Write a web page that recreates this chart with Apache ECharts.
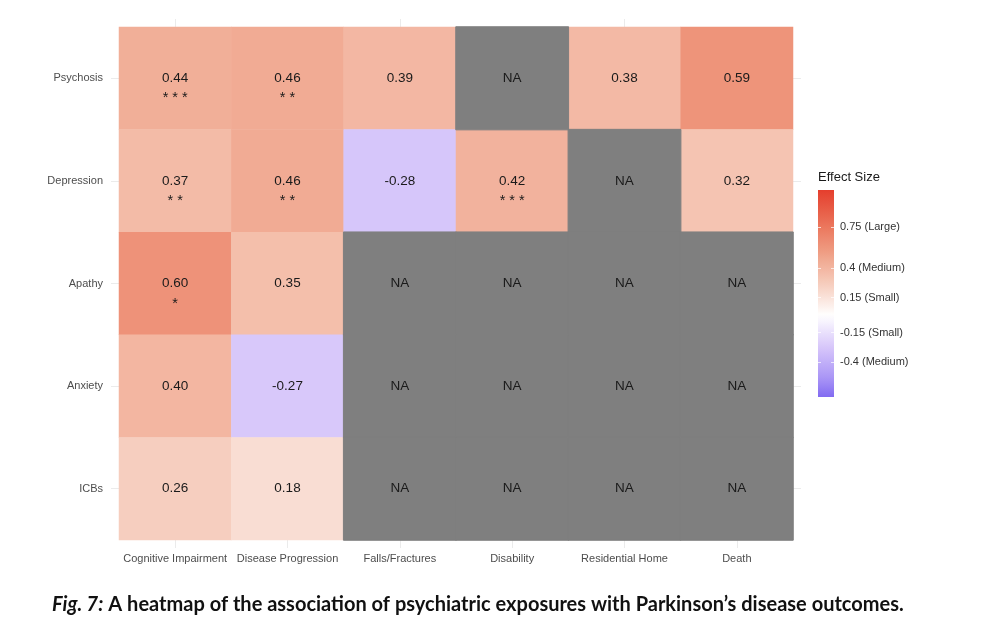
<!DOCTYPE html>
<html>
<head>
<meta charset="utf-8">
<script src="https://cdn.jsdelivr.net/npm/echarts@6/dist/echarts.min.js"></script>
<style>
  html, body { margin: 0; padding: 0; background: #fff; }
  #main { width: 984px; height: 644px; }
</style>
</head>
<body>
<div id="main"></div>
<script>
// categories
const outcomes = ['Cognitive Impairment', 'Disease Progression', 'Falls/Fractures', 'Disability', 'Residential Home', 'Death']
const exposures = ['Psychosis', 'Depression', 'Apathy', 'Anxiety', 'ICBs']

// effect sizes, one row per exposure (null = NA)
const psychosis = [0.44, 0.46, 0.39, null, 0.38, 0.59]
const depression = [0.37, 0.46, -0.28, 0.42, null, 0.32]
const apathy = [0.60, 0.35, null, null, null, null]
const anxiety = [0.40, -0.27, null, null, null, null]
const icbs = [0.26, 0.18, null, null, null, null]

// significance stars
const psychosisStars = ['***', '**', '', '', '', '']
const depressionStars = ['**', '**', '', '***', '', '']
const apathyStars = ['*', '', '', '', '', '']
const anxietyStars = ['', '', '', '', '', '']
const icbsStars = ['', '', '', '', '', '']

// colour bar
const legendMin = -0.7
const legendMax = 1.07
const legendTickValues = [0.75, 0.4, 0.15, -0.15, -0.4]
const legendTickLabels = ['0.75 (Large)', '0.4 (Medium)', '0.15 (Small)', '-0.15 (Small)', '-0.4 (Medium)']

// diverging palette, evenly spaced from -1.07 to 1.07 (white at 0)
const paletteMax = 1.07
const palette = [
  [80, 50, 234], [105, 80, 238], [170, 150, 246], [216, 200, 250],
  [255, 255, 255],
  [246, 205, 189], [239, 158, 132], [234, 110, 85], [229, 62, 45]
]

const rows = [psychosis, depression, apathy, anxiety, icbs]
const starRows = [psychosisStars, depressionStars, apathyStars, anxietyStars, icbsStars]

const valueData = []
const naData = []
rows.forEach((row, y) => {
  row.forEach((v, x) => {
    if (v === null) naData.push([x, y, 0])
    else valueData.push([x, y, v, starRows[y][x]])
  })
})

function toHex(c) {
  return '#' + c.map((n) => Math.round(n).toString(16).padStart(2, '0')).join('')
}
function colorAt(v) {
  const pos = (v + paletteMax) / (2 * paletteMax) * (palette.length - 1)
  const i = Math.min(Math.floor(pos), palette.length - 2)
  const t = pos - i
  const a = palette[i], b = palette[i + 1]
  return toHex([0, 1, 2].map((k) => a[k] + (b[k] - a[k]) * t))
}

// gradient stops for the colour bar (top = legendMax)
const barStops = []
for (let i = 0; i <= 30; i++) {
  const v = legendMax - (legendMax - legendMin) * i / 30
  barStops.push({ offset: i / 30, color: colorAt(v) })
}

const font = 'Liberation Sans, Arial, sans-serif'
const stubColor = '#ebebeb'

const myChart = echarts.init(document.getElementById('main'))
myChart.setOption({
  animation: false,
  title: [
    {
      left: 52,
      top: 595,
      padding: 0,
      text: '{i|Fig. 7:} {b|A heatmap of the association of psychiatric exposures with Parkinson’s disease outcomes}{n|.}',
      textStyle: {
        rich: {
          i: { fontFamily: 'Lato', fontSize: 20, fontWeight: 'bold', fontStyle: 'italic', color: '#111' },
          b: { fontFamily: 'Lato', fontSize: 20, fontWeight: 'bold', color: '#111' },
          n: { fontFamily: 'Lato', fontSize: 20, color: '#111' }
        }
      }
    },
    {
      left: 818,
      top: 171,
      padding: 0,
      text: 'Effect Size',
      textStyle: { fontFamily: font, fontSize: 13, fontWeight: 'normal', color: '#1a1a1a' }
    }
  ],
  grid: [
    { left: 119, right: 191, top: 27, bottom: 104 },
    { left: 818, top: 190, width: 16, height: 207 }
  ],
  xAxis: [
    {
      type: 'category',
      data: outcomes,
      gridIndex: 0,
      position: 'bottom',
      axisLine: { show: false },
      axisTick: { show: true, alignWithLabel: true, length: 8, lineStyle: { color: stubColor } },
      axisLabel: { fontFamily: font, fontSize: 11, color: '#4d4d4d', margin: 13, interval: 0 },
      splitLine: { show: false }
    },
    {
      type: 'category',
      data: outcomes,
      gridIndex: 0,
      position: 'top',
      axisLine: { show: false },
      axisTick: { show: true, alignWithLabel: true, length: 8, lineStyle: { color: stubColor } },
      axisLabel: { show: false }
    },
    {
      type: 'category',
      data: ['bar'],
      gridIndex: 1,
      show: false
    }
  ],
  yAxis: [
    {
      type: 'category',
      data: exposures,
      inverse: true,
      gridIndex: 0,
      position: 'left',
      axisLine: { show: false },
      axisTick: { show: true, alignWithLabel: true, length: 8, lineStyle: { color: stubColor } },
      axisLabel: { fontFamily: font, fontSize: 11, color: '#4d4d4d', margin: 16 },
      splitLine: { show: false }
    },
    {
      type: 'category',
      data: exposures,
      inverse: true,
      gridIndex: 0,
      position: 'right',
      axisLine: { show: false },
      axisTick: { show: true, alignWithLabel: true, length: 8, lineStyle: { color: stubColor } },
      axisLabel: { show: false }
    },
    {
      type: 'value',
      gridIndex: 1,
      position: 'right',
      min: legendMin,
      max: legendMax,
      z: 5,
      axisLine: { show: false },
      splitLine: { show: false },
      axisTick: {
        show: true, inside: true, length: 3, customValues: legendTickValues,
        lineStyle: { color: 'rgba(255,255,255,0.7)' }
      },
      axisLabel: {
        customValues: legendTickValues,
        margin: 6,
        fontFamily: font,
        fontSize: 11,
        color: '#333',
        formatter: (v) => {
          const i = legendTickValues.findIndex((t) => Math.abs(t - v) < 1e-6)
          return i >= 0 ? legendTickLabels[i] : ''
        }
      }
    },
    {
      type: 'value',
      gridIndex: 1,
      position: 'left',
      min: legendMin,
      max: legendMax,
      z: 5,
      axisLine: { show: false },
      splitLine: { show: false },
      axisTick: {
        show: true, inside: true, length: 3, customValues: legendTickValues,
        lineStyle: { color: 'rgba(255,255,255,0.7)' }
      },
      axisLabel: { show: false }
    }
  ],
  visualMap: {
    show: false,
    type: 'continuous',
    seriesIndex: 0,
    dimension: 2,
    min: -paletteMax,
    max: paletteMax,
    inRange: { color: palette.map(toHex) }
  },
  series: [
    {
      name: 'Effect Size',
      type: 'heatmap',
      xAxisIndex: 0,
      yAxisIndex: 0,
      data: valueData,
      emphasis: { disabled: true },
      label: {
        show: true,
        fontFamily: font,
        color: '#1a1a1a',
        formatter: (p) => {
          const txt = p.value[2].toFixed(2)
          return p.value[3] ? `{e|}\n{v|${txt}}\n{s|${p.value[3].split('').join(' ')}}` : `{v|${txt}}`
        },
        rich: {
          e: { lineHeight: 24, fontSize: 14 },
          v: { fontFamily: font, fontSize: 13.5, lineHeight: 16, color: '#1a1a1a' },
          s: { fontFamily: font, fontSize: 14.5, lineHeight: 24, color: '#1a1a1a' }
        }
      }
    },
    {
      name: 'NA',
      type: 'heatmap',
      xAxisIndex: 0,
      yAxisIndex: 0,
      data: naData,
      itemStyle: { color: '#7f7f7f', borderColor: '#7f7f7f', borderWidth: 1 },
      emphasis: { disabled: true },
      label: {
        show: true,
        fontFamily: font,
        fontSize: 13.5,
        color: '#1a1a1a',
        formatter: () => 'NA'
      }
    },
    {
      name: 'colour bar',
      type: 'custom',
      xAxisIndex: 2,
      yAxisIndex: 2,
      data: [[0, legendMin, legendMax]],
      encode: { x: 0, y: [1, 2] },
      silent: true,
      renderItem: (params, api) => {
        const p0 = api.coord([api.value(0), api.value(1)])
        const p1 = api.coord([api.value(0), api.value(2)])
        const w = api.size([1, 0])[0]
        return {
          type: 'rect',
          shape: { x: p0[0] - w / 2, y: p1[1], width: w, height: p0[1] - p1[1] },
          style: { fill: new echarts.graphic.LinearGradient(0, 0, 0, 1, barStops) }
        }
      }
    }
  ]
})
</script>
</body>
</html>
